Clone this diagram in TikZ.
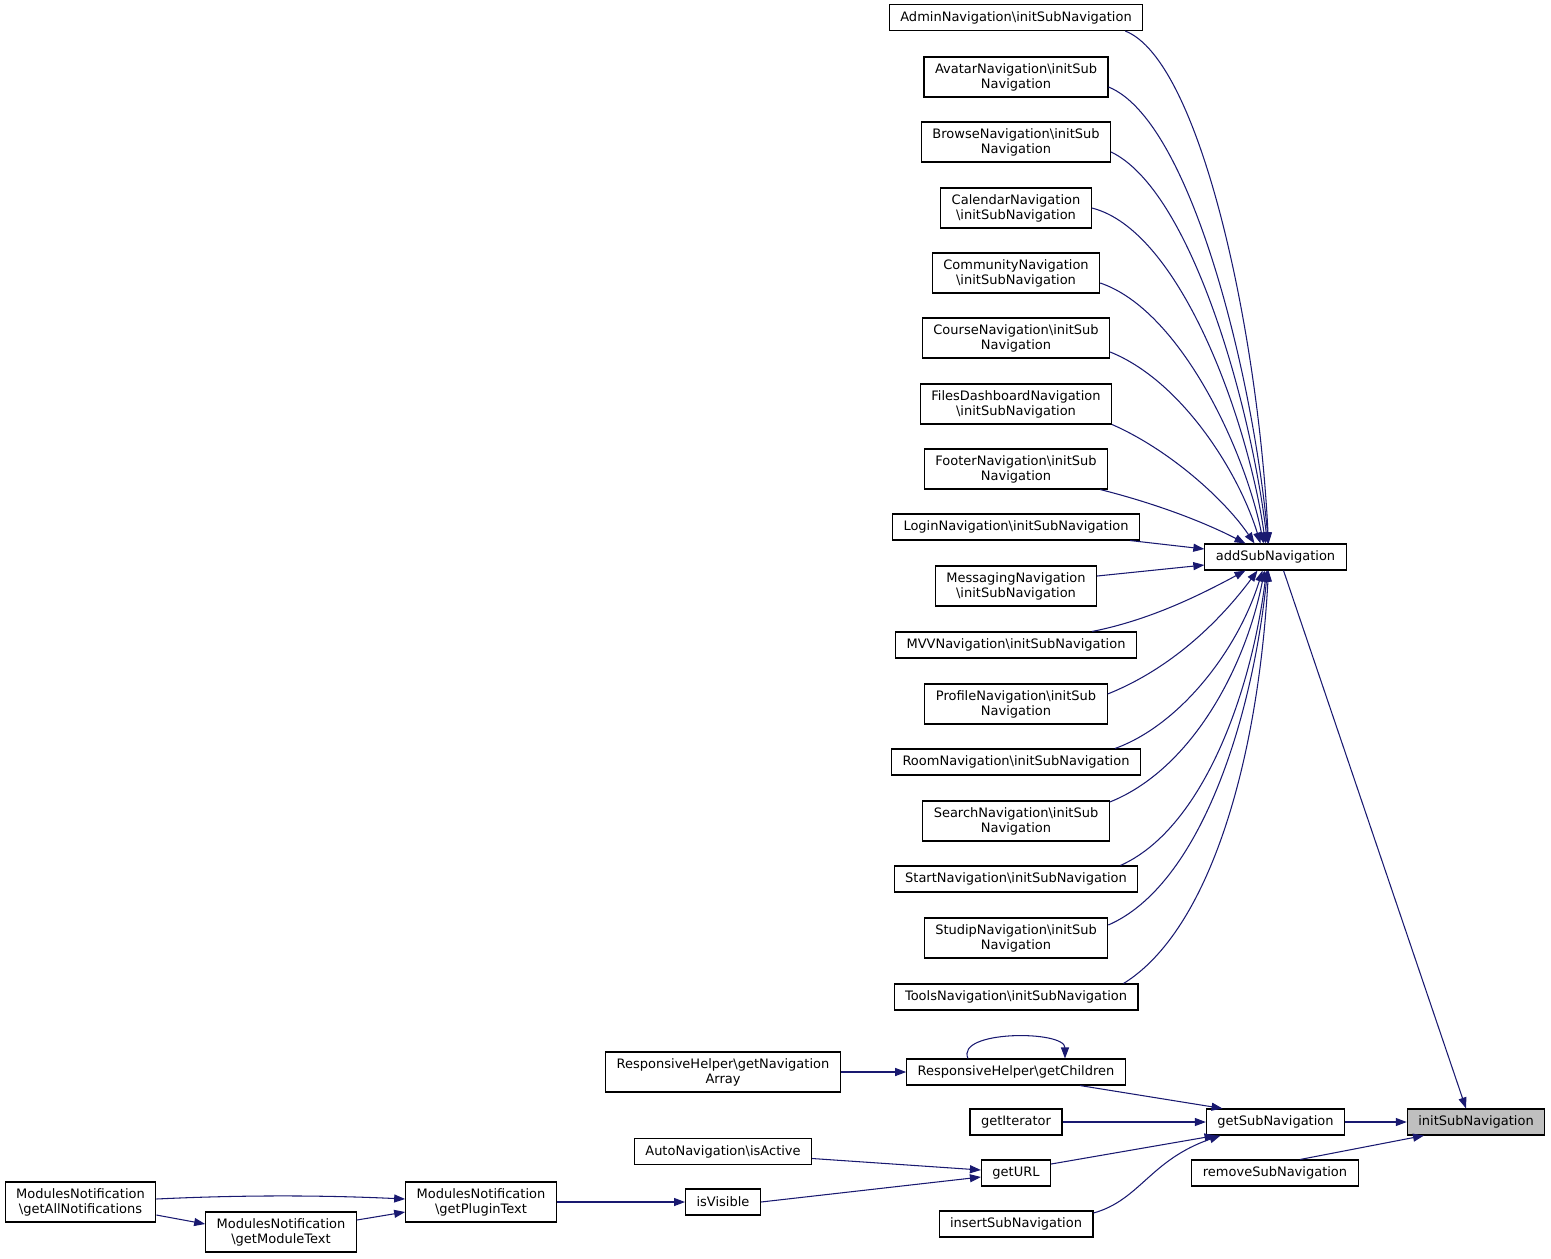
\documentclass[tikz,border=0pt]{standalone}
\usepackage{fontspec}
\setmainfont{DejaVu Sans}
\usetikzlibrary{arrows.meta}
\definecolor{edgeblue}{HTML}{191970}
\definecolor{rootgray}{HTML}{BFBFBF}
\newcommand{\bsl}{\textbackslash}
\tikzset{
  fn/.style={draw=black, line width=0.6pt, fill=white, inner xsep=0.22cm, inner ysep=0.08cm,
    minimum height=0.52cm, align=center, font=\fontsize{7.4}{8.5}\selectfont},
  fntwo/.style={fn, minimum height=0.8cm},
  call/.style={draw=edgeblue, line width=0.6pt, -{Triangle[length=0.22cm,width=0.16cm]}}
}
\begin{document}
\begin{tikzpicture}[x=0.02cm,y=-0.02cm]
\useasboundingbox (0,0) rectangle (1551,1258);
% callers of addSubNavigation
\node [fn] (admin) at (1016,17.5) {AdminNavigation\bsl initSubNavigation};
\node [fntwo] (avatar) at (1016,77) {AvatarNavigation\bsl initSub\\Navigation};
\node [fntwo] (browse) at (1016,142) {BrowseNavigation\bsl initSub\\Navigation};
\node [fntwo] (calendar) at (1016,208) {CalendarNavigation\\\bsl initSubNavigation};
\node [fntwo] (community) at (1016,273) {CommunityNavigation\\\bsl initSubNavigation};
\node [fntwo] (course) at (1016,338) {CourseNavigation\bsl initSub\\Navigation};
\node [fntwo] (files) at (1016,404) {FilesDashboardNavigation\\\bsl initSubNavigation};
\node [fntwo] (footer) at (1016,469) {FooterNavigation\bsl initSub\\Navigation};
\node [fn] (login) at (1016,527) {LoginNavigation\bsl initSubNavigation};
\node [fntwo] (messaging) at (1016,586) {MessagingNavigation\\\bsl initSubNavigation};
\node [fn] (mvv) at (1016,645) {MVVNavigation\bsl initSubNavigation};
\node [fntwo] (profile) at (1016,704) {ProfileNavigation\bsl initSub\\Navigation};
\node [fn] (room) at (1016,762) {RoomNavigation\bsl initSubNavigation};
\node [fntwo] (search) at (1016,821) {SearchNavigation\bsl initSub\\Navigation};
\node [fn] (start) at (1016,879) {StartNavigation\bsl initSubNavigation};
\node [fntwo] (studip) at (1016,938) {StudipNavigation\bsl initSub\\Navigation};
\node [fn] (tools) at (1016,997) {ToolsNavigation\bsl initSubNavigation};
% middle and root
\node [fn] (add) at (1275.5,557) {addSubNavigation};
\node [fn] (get) at (1275.5,1122) {getSubNavigation};
\node [fn] (remove) at (1275,1173) {removeSubNavigation};
\node [fn,fill=rootgray] (init) at (1476,1122) {initSubNavigation};
% lower part
\node [fn] (gc) at (1016,1072) {ResponsiveHelper\bsl getChildren};
\node [fn] (iter) at (1016,1122) {getIterator};
\node [fn] (url) at (1016,1173) {getURL};
\node [fn] (insert) at (1016,1224) {insertSubNavigation};
\node [fntwo] (navarr) at (723,1072) {ResponsiveHelper\bsl getNavigation\\Array};
\node [fn] (isactive) at (723,1151.5) {AutoNavigation\bsl isActive};
\node [fn] (isvis) at (723,1202) {isVisible};
\node [fntwo] (plugin) at (481,1202) {ModulesNotification\\\bsl getPluginText};
\node [fntwo] (allnot) at (80.5,1202) {ModulesNotification\\\bsl getAllNotifications};
\node [fntwo] (modtext) at (281,1232) {ModulesNotification\\\bsl getModuleText};

% edges into addSubNavigation
\draw [call] ([xshift=-0.36cm]admin.south east) .. controls (1200,60) and (1258,330) .. ([xshift=-0.14cm]add.north);
\draw [call] ([yshift=-0.2cm]avatar.east) .. controls (1190,120) and (1252,370) .. ([xshift=-0.14cm]add.north);
\draw [call] ([yshift=-0.2cm]browse.east) .. controls (1190,190) and (1250,400) .. ([xshift=-0.16cm]add.north);
\draw [call] (calendar.east) .. controls (1180,230) and (1248,420) .. ([xshift=-0.2cm]add.north);
\draw [call] ([yshift=-0.2cm]community.east) .. controls (1180,310) and (1245,450) .. ([xshift=-0.24cm]add.north);
\draw [call] ([yshift=-0.28cm]course.east) .. controls (1180,380) and (1238,470) .. ([xshift=-0.3cm]add.north);
\draw [call] (files.south east) .. controls (1170,450) and (1225,500) .. ([xshift=-0.42cm]add.north);
\draw [call] ([xshift=-0.16cm]footer.south east) .. controls (1150,502) and (1200,520) .. ([xshift=-0.6cm]add.north);
\draw [call] ([xshift=-0.2cm]login.south east) -- ([yshift=0.16cm]add.west);
\draw [call] ([yshift=0.2cm]messaging.east) -- ([yshift=-0.16cm]add.west);
\draw [call] ([xshift=-0.9cm]mvv.north east) .. controls (1150,620) and (1200,595) .. ([xshift=-0.6cm]add.south);
\draw [call] ([yshift=0.2cm]profile.east) .. controls (1180,665) and (1228,610) .. ([xshift=-0.36cm]add.south);
\draw [call] ([xshift=-0.52cm]room.north east) .. controls (1180,725) and (1238,650) .. ([xshift=-0.26cm]add.south);
\draw [call] ([yshift=0.38cm]search.east) .. controls (1190,770) and (1245,670) .. ([xshift=-0.22cm]add.south);
\draw [call] ([xshift=-0.36cm]start.north east) .. controls (1200,830) and (1250,700) .. ([xshift=-0.18cm]add.south);
\draw [call] ([yshift=0.26cm]studip.east) .. controls (1200,885) and (1252,720) .. ([xshift=-0.16cm]add.south);
\draw [call] ([xshift=-0.3cm]tools.north east) .. controls (1210,930) and (1258,760) .. ([xshift=-0.14cm]add.south);

% edges into initSubNavigation
\draw [call] ([xshift=0.16cm]add.south) -- ([xshift=-0.2cm]init.north);
\draw [call] (get.east) -- (init.west);
\draw [call] ([xshift=0.5cm]remove.north) -- ([xshift=-1.04cm]init.south);

% edges into getSubNavigation
\draw [call] ([xshift=1.28cm]gc.south) -- ([xshift=-1.06cm]get.north);
\draw [call] (iter.east) -- (get.west);
\draw [call] ([yshift=0.18cm]url.east) -- ([xshift=-1.2cm]get.south);
\draw [call] ([yshift=0.22cm]insert.east) .. controls (1140,1200) and (1150,1160) .. ([xshift=-1.1cm]get.south);

% the rest
\draw [call] (navarr.east) -- (gc.west);
\draw [call] ([xshift=-0.96cm]gc.north) .. controls (955,1030) and (1065,1030) .. ([xshift=0.98cm]gc.north);
\draw [call] ([yshift=-0.14cm]isactive.east) -- ([yshift=0.06cm]url.west);
\draw [call] (isvis.east) -- ([yshift=-0.08cm]url.west);
\draw [call] (plugin.east) -- (isvis.west);
\draw [call] ([yshift=0.06cm]allnot.east) .. controls (240,1195) and (320,1195) .. ([yshift=0.06cm]plugin.west);
\draw [call] ([yshift=-0.26cm]allnot.east) -- ([yshift=0.16cm]modtext.west);
\draw [call] ([yshift=0.24cm]modtext.east) -- ([yshift=-0.2cm]plugin.west);
\end{tikzpicture}
\end{document}
